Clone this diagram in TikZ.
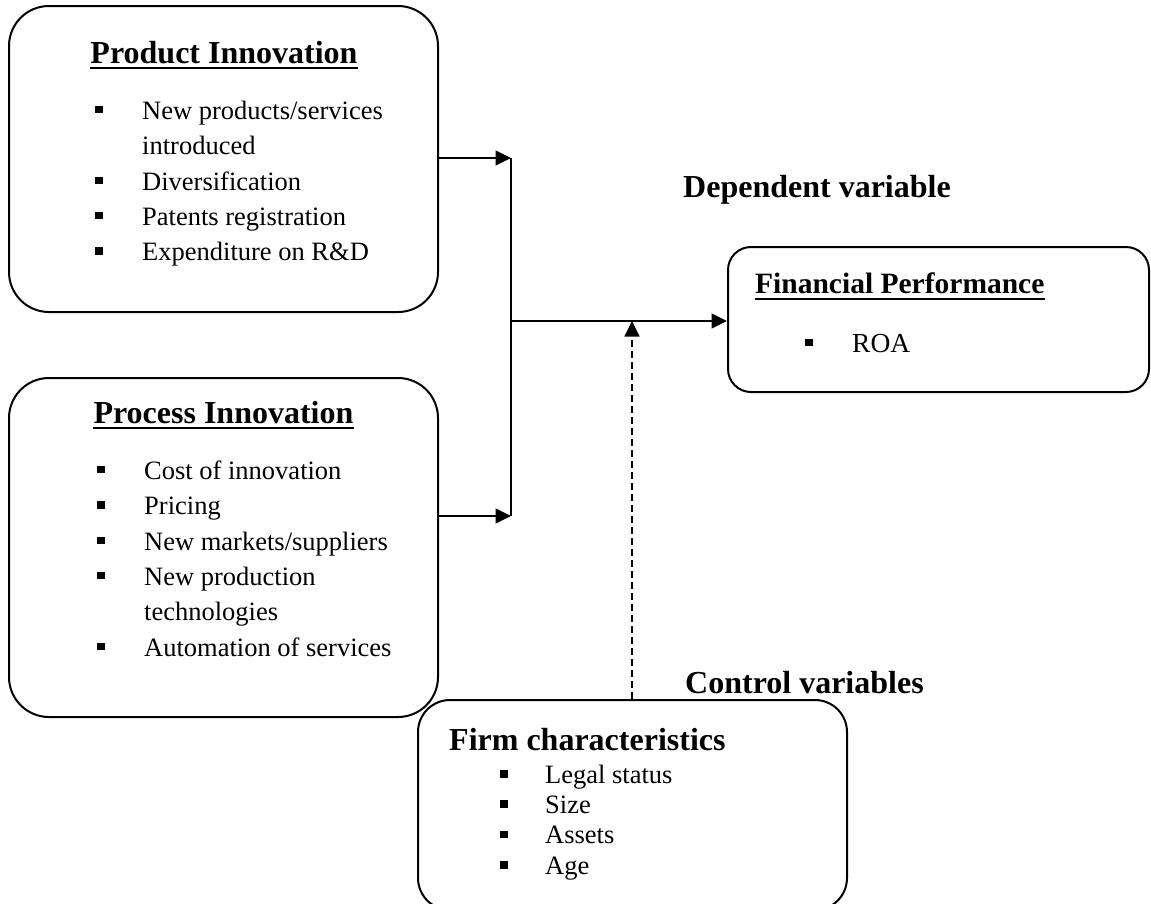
\documentclass[tikz,border=0pt]{standalone}
\usepackage{fontspec}
\setmainfont{Liberation Serif}
\usetikzlibrary{arrows.meta}
\newcommand{\bulsq}[2]{\fill (#1-3.8,#2-3.8) rectangle (#1+3.8,#2+3.8);}
\begin{document}
\begin{tikzpicture}[x=1pt,y=-1pt,
  box/.style={draw, line width=2pt, inner sep=0pt},
  conn/.style={line width=1.3pt},
  arr/.style={conn, -{Triangle[length=15.5pt,width=15pt]}},
  ttl/.style={inner sep=0pt, font=\bfseries\fontsize{32}{36}\selectfont},
  item/.style={anchor=base west, inner sep=0pt, font=\fontsize{26.5}{30}\selectfont},
  uline/.style={line width=2.6pt}]
\useasboundingbox (0,0) rectangle (1151,903);

% boxes
\node[box, rounded corners=40pt, minimum width=429pt, minimum height=306pt] (prod) at (223.5,159) {};
\node[box, rounded corners=40pt, minimum width=429pt, minimum height=339pt] (proc) at (223.5,547.5) {};
\node[box, rounded corners=23pt, minimum width=421pt, minimum height=145pt] (fin) at (938.5,319.5) {};
\node[box, rounded corners=32pt, minimum width=429pt, minimum height=210pt] (firm) at (632.5,805) {};

% Product Innovation
\node[ttl, anchor=base] (pt) at (224,63) {Product Innovation};
\draw[uline] ([yshift=-5pt]pt.base west) -- ([yshift=-5pt]pt.base east);
\node[item] (p1) at (142,119) {New products/services};
\node[item] (p1b) at (142,154.5) {introduced};
\node[item] (p2) at (142,190) {Diversification};
\node[item] (p3) at (142,225) {Patents registration};
\node[item] (p4) at (142,260.5) {Expenditure on R\&D};
\bulsq{99}{109.5}
\bulsq{99}{180.5}
\bulsq{99}{215.5}
\bulsq{99}{251}

% Process Innovation
\node[ttl, anchor=base] (qt) at (223.5,423) {Process Innovation};
\draw[uline] ([yshift=-5pt]qt.base west) -- ([yshift=-5pt]qt.base east);
\node[item] (q1) at (144,479) {Cost of innovation};
\node[item] (q2) at (144,514.5) {Pricing};
\node[item] (q3) at (144,550) {New markets/suppliers};
\node[item] (q4) at (144,585) {New production};
\node[item] (q4b) at (144,620.5) {technologies};
\node[item] (q5) at (144,656) {Automation of services};
\bulsq{101}{469.5}
\bulsq{101}{505}
\bulsq{101}{540.5}
\bulsq{101}{575.5}
\bulsq{101}{646.5}

% Financial Performance
\node[inner sep=0pt, anchor=base west, font=\bfseries\fontsize{29.5}{34}\selectfont] (ft) at (755,293) {Financial Performance};
\draw[line width=2.2pt] ([yshift=-6pt]ft.base west) -- ([yshift=-6pt]ft.base east);
\node[item, font=\fontsize{27.5}{30}\selectfont] (f1) at (852,352) {ROA};
\bulsq{809}{342.5}

% Firm characteristics
\node[ttl, anchor=base west] (mt) at (449,750) {Firm characteristics};
\node[item] (m1) at (545,783) {Legal status};
\node[item] (m2) at (545,813) {Size};
\node[item] (m3) at (545,843.5) {Assets};
\node[item] (m4) at (545,874) {Age};
\bulsq{504}{774}
\bulsq{504}{804}
\bulsq{504}{834.5}
\bulsq{504}{865}

% headings
\node[ttl, anchor=base west] (dv) at (683,197) {Dependent variable};
\node[ttl, anchor=base west] (cv) at (685,693) {Control variables};

% connectors
\coordinate (j1) at (511,158);
\coordinate (j2) at (511,516);
\coordinate (j3) at (511,321);
\coordinate (jm) at (632,321);
\draw[arr] (prod.east |- j1) -- (j1);
\draw[arr] (proc.east |- j2) -- (j2);
\draw[conn] (j1) -- (j2);
\draw[arr] (j3) -- (j3 -| fin.west);
\draw[arr, dash pattern=on 7pt off 4pt] (jm |- firm.north) -- (jm);
\end{tikzpicture}
\end{document}
